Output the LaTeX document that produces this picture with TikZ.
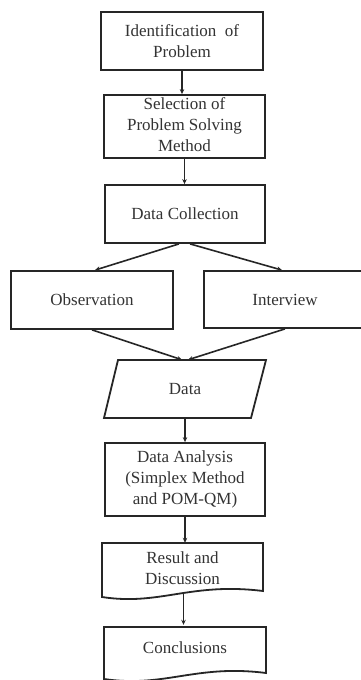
\documentclass[tikz,border=0pt]{standalone}
\usepackage{fontspec}
\setmainfont{Liberation Serif}
\usetikzlibrary{arrows.meta}
\begin{document}
\begin{tikzpicture}[x=1pt,y=-1pt,
  box/.style={draw=black!85, line width=1.8pt, rectangle, align=center, text=black!80,
    font=\fontsize{17}{21}\selectfont, inner sep=0pt},
  txt/.style={rectangle, align=center, text=black!80, font=\fontsize{17}{21}\selectfont, inner sep=0pt},
  outline/.style={draw=black!85, line width=1.8pt, line join=miter},
  conn/.style={draw=black!85, line width=1.6pt, -{Stealth[length=5pt,width=4.5pt]}}]
\useasboundingbox[fill=white] (0,0) rectangle (361,680);

\node[box, minimum width=162pt, minimum height=58pt] (b1) at (182,41) {Identification\ \ of\\Problem};
\node[box, minimum width=161pt, minimum height=61pt] (b2) at (184.5,126.5)
  {\raisebox{-2.5pt}{\begin{tabular}{@{}c@{}}Selection of\\Problem Solving\\Method\end{tabular}}};
\node[box, minimum width=160pt, minimum height=58pt] (b3) at (185,214) {Data Collection};
\node[box, minimum width=162pt, minimum height=58pt] (obs) at (92,300) {Observation};
\node[box, minimum width=162pt, minimum height=57pt] (int) at (285,299.5) {Interview};

% Data parallelogram
\node[txt, minimum width=148pt, minimum height=58pt] (data) at (185,389) {Data};
\draw[outline] (118,360) -- (266,360) -- (251,418) -- (104,418) -- cycle;

\node[box, minimum width=160pt, minimum height=73pt] (ana) at (185,479.5) {Data Analysis\\(Simplex Method\\and POM-QM)};

% Result and Discussion (document shape)
\node[txt, minimum width=161pt, minimum height=50pt] (res) at (182.5,568) {Result and\\Discussion};
\draw[outline] (102,597) -- (102,543) -- (263,543) -- (263,591)
  .. controls (190,582) and (160,606) .. cycle;

% Conclusions (document shape)
\node[txt, minimum width=162pt, minimum height=46pt] (con) at (185,648) {Conclusions};
\draw[outline] (104,679) -- (104,627) -- (266,627) -- (266,673)
  .. controls (195,664) and (165,688) .. cycle;

\draw[conn] (b1.south) -- (b1.south |- b2.north);
\draw[conn] (b2.south) -- (b2.south |- b3.north);
\draw[conn] ([xshift=-6pt]b3.south) -- ([xshift=3pt]obs.north);
\draw[conn] ([xshift=5pt]b3.south) -- ([xshift=-3pt]int.north);
\draw[conn] (obs.south) -- ([xshift=-3pt]data.north);
\draw[conn] (int.south) -- ([xshift=3pt]data.north);
\draw[conn] (data.south) -- (data.south |- ana.north);
\draw[conn] (ana.south) -- (ana.south |- res.north);
\draw[conn] ([xshift=1pt]res.south) -- ([xshift=1pt]res.south |- con.north);
\end{tikzpicture}
\end{document}
